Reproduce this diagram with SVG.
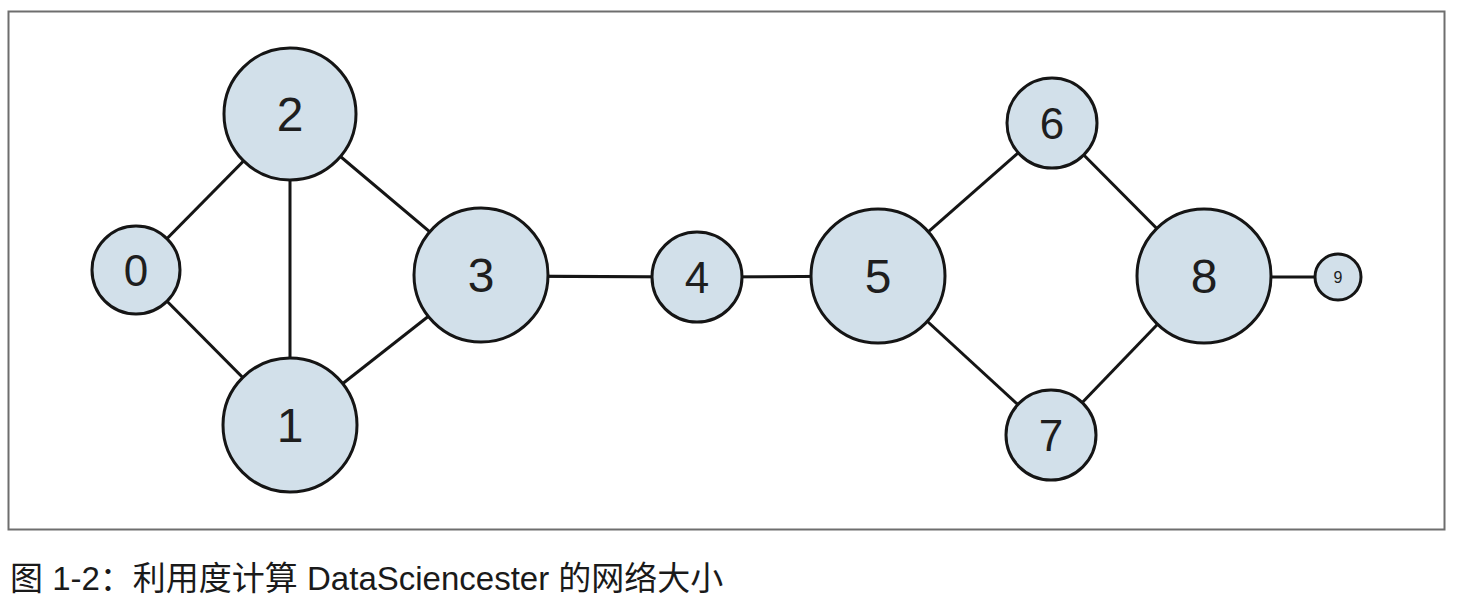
<svg xmlns="http://www.w3.org/2000/svg" width="1458" height="612" viewBox="0 0 1458 612">
<style>
.node circle{fill:#d2e0ea;stroke:#151515;stroke-width:3}
.node text{font-family:"Liberation Sans",Arial,sans-serif;fill:#1e1e1e;text-anchor:middle;dominant-baseline:central}
.big text{font-size:48px}
.med text{font-size:44px}
.edges line{stroke:#151515;stroke-width:3}
.cap{font-family:"Liberation Sans","Noto Sans CJK SC",sans-serif;font-size:33px;fill:#1a1a1a}
</style>
<rect x="8.5" y="11.5" width="1436" height="518" fill="#fff" stroke="#6e6e6e" stroke-width="2"/>
<g class="edges">
<line x1="136" y1="270" x2="290" y2="114"/>
<line x1="136" y1="270" x2="290" y2="425"/>
<line x1="290" y1="114" x2="290" y2="425"/>
<line x1="290" y1="114" x2="481" y2="275"/>
<line x1="290" y1="425" x2="481" y2="275"/>
<line x1="481" y1="276" x2="697" y2="277"/>
<line x1="697" y1="277" x2="878" y2="276"/>
<line x1="878" y1="276" x2="1052" y2="123"/>
<line x1="878" y1="276" x2="1051" y2="435"/>
<line x1="1052" y1="123" x2="1204" y2="276"/>
<line x1="1051" y1="435" x2="1204" y2="276"/>
<line x1="1204" y1="277" x2="1338" y2="277"/>
</g>
<g id="node0" class="node med"><circle cx="136" cy="270" r="44"/><text x="136" y="270">0</text></g>
<g id="node2" class="node big"><circle cx="290" cy="114" r="66"/><text x="290" y="114">2</text></g>
<g id="node1" class="node big"><circle cx="290" cy="425" r="67"/><text x="290" y="425">1</text></g>
<g id="node3" class="node big"><circle cx="481" cy="275" r="67"/><text x="481" y="275">3</text></g>
<g id="node4" class="node med"><circle cx="697" cy="277" r="45"/><text x="697" y="277">4</text></g>
<g id="node5" class="node big"><circle cx="878" cy="276" r="67"/><text x="878" y="276">5</text></g>
<g id="node6" class="node med"><circle cx="1052" cy="123" r="45"/><text x="1052" y="123">6</text></g>
<g id="node7" class="node med"><circle cx="1051" cy="435" r="45"/><text x="1051" y="435">7</text></g>
<g id="node8" class="node big"><circle cx="1204" cy="276" r="67"/><text x="1204" y="276">8</text></g>
<g id="node9" class="node"><circle cx="1338" cy="277" r="23"/><text x="1338" y="277" style="font-size:16px">9</text></g>
<text class="cap" x="10" y="590">图 1-2：利用度计算 DataSciencester 的网络大小</text>
</svg>
